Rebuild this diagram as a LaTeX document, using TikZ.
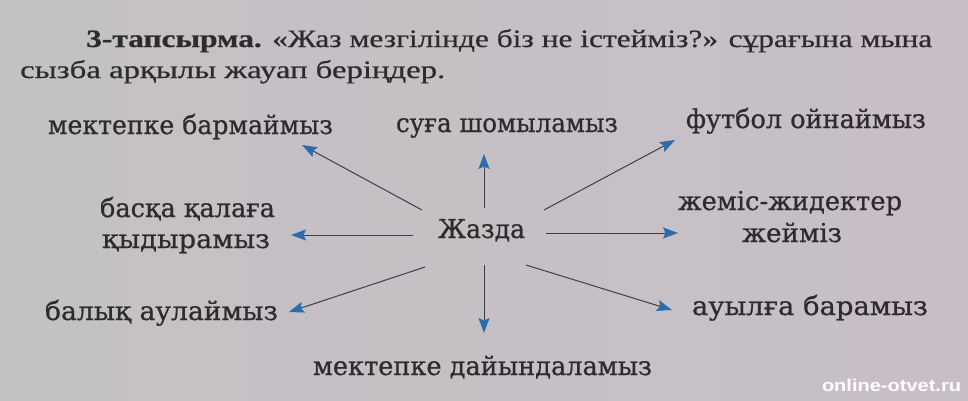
\documentclass[tikz,border=0pt]{standalone}
\usepackage{fontspec}
\usepackage{graphicx}
\usetikzlibrary{arrows.meta}
\newfontfamily\lblfont[FakeBold=0.7]{DejaVu Serif}
\newfontfamily\ttlfont[FakeBold=0.6]{Liberation Serif}
\newfontfamily\wmfont{Liberation Sans}
\definecolor{paperL}{HTML}{C4C1C5}
\definecolor{paperR}{HTML}{C8BFC6}
\definecolor{ink}{HTML}{2E2B2E}
\definecolor{arrowblue}{HTML}{2C6CAC}
\definecolor{shaft}{HTML}{3A3F4B}
\newcommand{\fitw}[2]{\resizebox{#1pt}{\height}{#2}}
\tikzset{
  lbl/.style={inner sep=0pt, text=ink, anchor=base, font=\lblfont\fontsize{26}{31}\selectfont},
  ttl/.style={inner sep=0pt, text=ink, anchor=base west, font=\ttlfont\fontsize{25}{30}\selectfont},
  conn/.style={draw=shaft, line width=1pt, -{Stealth[length=15pt,width=11pt,inset=2.5pt,color=arrowblue]}}
}
\begin{document}
\begin{tikzpicture}[x=1pt,y=-1pt]
\shade[left color=paperL, right color=paperR] (0,0) rectangle (968,400);
\useasboundingbox (0,0) rectangle (968,400);
% title
\node[ttl] (t1) at (86,47) {\fitw{846}{\textbf{3-тапсырма.} «Жаз мезгілінде біз не істейміз?» сұрағына мына}};
\node[ttl] (t2) at (20,78) {\fitw{425}{сызба арқылы жауап беріңдер.}};
% labels
\node[lbl] (c)   at (481.5,238) {\fitw{87}{Жазда}};
\node[lbl] (nw)  at (190.5,134) {\fitw{285}{мектепке бармаймыз}};
\node[lbl] (n)   at (507,132) {\fitw{222}{суға шомыламыз}};
\node[lbl] (ne)  at (806,128) {\fitw{240}{футбол ойнаймыз}};
\node[lbl] (w1)  at (187.5,217) {\fitw{175}{басқа қалаға}};
\node[lbl] (w2)  at (186,248) {\fitw{168}{қыдырамыз}};
\node[lbl] (e1)  at (790,210) {\fitw{224}{жеміс-жидектер}};
\node[lbl] (e2)  at (792,242) {\fitw{100}{жейміз}};
\node[lbl] (sw)  at (161.5,320) {\fitw{233}{балық аулаймыз}};
\node[lbl] (s)   at (482.5,375) {\fitw{339}{мектепке дайындаламыз}};
\node[lbl] (se)  at (810,315) {\fitw{236}{ауылға барамыз}};
% arrow ends
\coordinate (cnw) at (422,210); \coordinate (pnw) at (302,145);
\coordinate (cn)  at (484,208); \coordinate (pn)  at (484,154);
\coordinate (cne) at (544,210); \coordinate (pne) at (675,140);
\coordinate (cw)  at (413,235); \coordinate (pw)  at (291,235);
\coordinate (ce)  at (546,233); \coordinate (pe)  at (678,233);
\coordinate (csw) at (425,267); \coordinate (psw) at (289,312);
\coordinate (cs)  at (484,265); \coordinate (ps)  at (484,333);
\coordinate (cse) at (526,265); \coordinate (pse) at (672,310);
\draw[conn] (cnw) -- (pnw);
\draw[conn] (cn) -- (pn);
\draw[conn] (cne) -- (pne);
\draw[conn] (cw) -- (pw);
\draw[conn] (ce) -- (pe);
\draw[conn] (csw) -- (psw);
\draw[conn] (cs) -- (ps);
\draw[conn] (cse) -- (pse);
% watermark
\node[inner sep=0pt, anchor=base, text=white, font=\wmfont\bfseries\fontsize{17}{20}\selectfont] (wm) at (891.5,391) {\fitw{139}{online-otvet.ru}};
\end{tikzpicture}
\end{document}
